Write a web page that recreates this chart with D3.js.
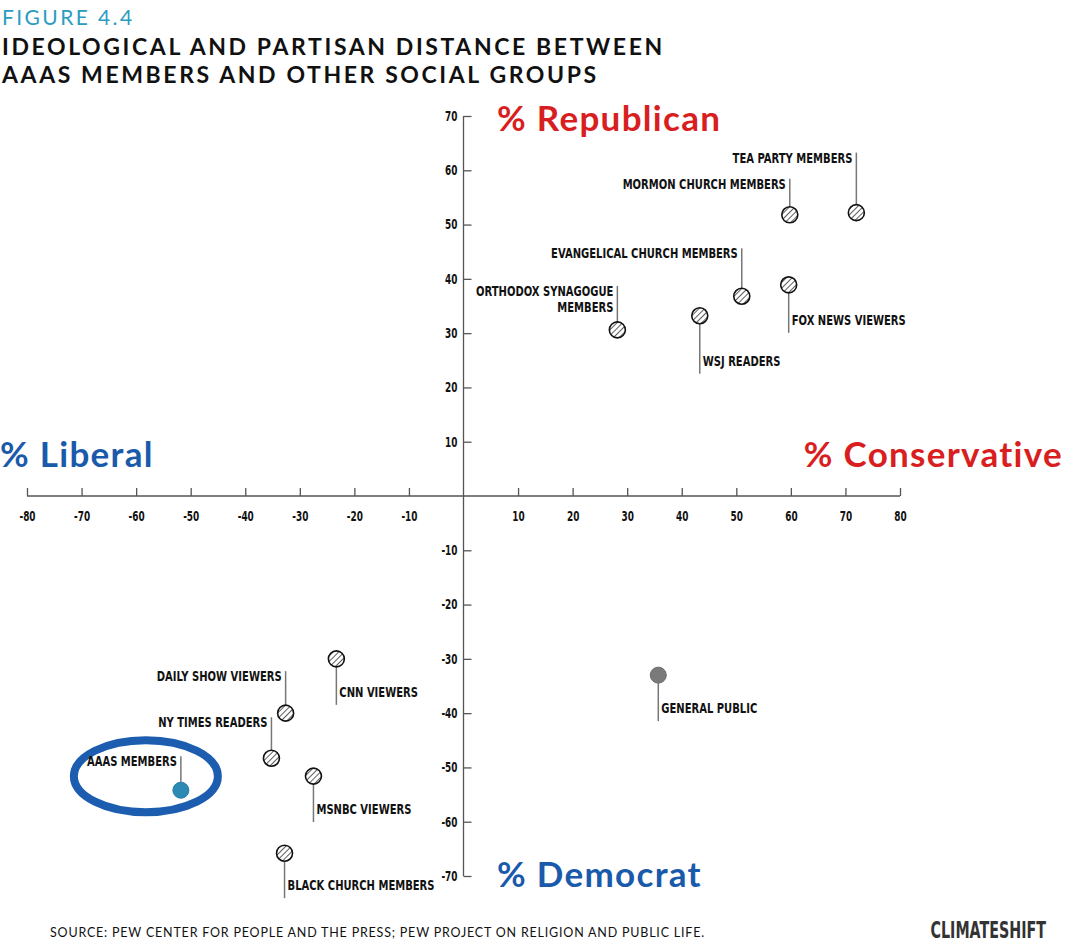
<!DOCTYPE html>
<html><head><meta charset="utf-8">
<script src="https://cdn.jsdelivr.net/npm/d3@7"></script>
<style>
body{margin:0;background:#fff;}
.cond{font-family:"DejaVu Sans",sans-serif;font-weight:bold;}
</style></head><body>
<svg id="chart" width="1068" height="947"></svg>
<script>
// data (ideology %, partisanship %)
var groups = ["TEA PARTY MEMBERS","MORMON CHURCH MEMBERS","EVANGELICAL CHURCH MEMBERS","FOX NEWS VIEWERS",
  "WSJ READERS","ORTHODOX SYNAGOGUE|MEMBERS","GENERAL PUBLIC","CNN VIEWERS","DAILY SHOW VIEWERS",
  "NY TIMES READERS","MSNBC VIEWERS","BLACK CHURCH MEMBERS","AAAS MEMBERS"];
var ideology = [72, 59.8, 51, 59.6, 43.3, 28.2, 35.7, -23.3, -32.6, -35.2, -27.5, -32.8, -51.8];
var partisan = [52.2, 51.8, 36.8, 38.9, 33.2, 30.6, -33, -30, -40, -48.3, -51.6, -65.8, -54.2];
var kind = ["hatch","hatch","hatch","hatch","hatch","hatch","public","hatch","hatch","hatch","hatch","hatch","aaas"];
// label placement: side and leader length (px)
var labelSide = ["up","up","up","down","down","up","down","down","up","up","down","down","up"];
var labelLen = [52, 28, 40, 40, 50, 36, 38, 38, 34, 33, 38, 37, 26];

var xTicks = [-80,-70,-60,-50,-40,-30,-20,-10,10,20,30,40,50,60,70,80];
var yTicks = [70,60,50,40,30,20,10,-10,-20,-30,-40,-50,-60,-70];

var svg = d3.select("#chart");
var x = d3.scaleLinear().domain([-80,80]).range([27,900]);
var y = d3.scaleLinear().domain([70,-70]).range([116,876]);
var fmt = function(d){ return String(d); };

// squeeze text horizontally to mimic a condensed face
function squeeze(sel, k){
  sel.each(function(){
    var w = this.getComputedTextLength();
    d3.select(this).attr("textLength", w*k).attr("lengthAdjust","spacingAndGlyphs");
  });
}

var defs = svg.append("defs");
var pat = defs.append("pattern").attr("id","hatch").attr("patternUnits","userSpaceOnUse")
  .attr("width",4).attr("height",4).attr("patternTransform","rotate(45)");
pat.append("rect").attr("width",4).attr("height",4).attr("fill","#fff");
pat.append("line").attr("x1",0).attr("y1",0).attr("x2",0).attr("y2",4).attr("stroke","#333").attr("stroke-width",1.6);

// titles
svg.append("text").attr("x",2).attr("y",25).attr("fill","#2b9cbf")
  .style("font-family","Lato").style("font-size","21px").style("letter-spacing","2.4px").text("FIGURE 4.4");
["IDEOLOGICAL AND PARTISAN DISTANCE BETWEEN","AAAS MEMBERS AND OTHER SOCIAL GROUPS"].forEach(function(t,i){
  svg.append("text").attr("x",2).attr("y",55+i*28).attr("fill","#111")
    .style("font-family","Lato").style("font-weight","bold").style("font-size","23px").style("letter-spacing","2.6px").text(t);
});

// axes
var gx = svg.append("g").attr("transform","translate(0,"+y(0)+")")
  .call(d3.axisTop(x).tickValues(xTicks).tickSize(8).tickFormat(fmt));
gx.selectAll("text").attr("y",20).attr("dy","0.35em");
var gy = svg.append("g").attr("transform","translate("+x(0)+",0)")
  .call(d3.axisRight(y).tickValues(yTicks).tickSize(8).tickFormat(fmt));
gy.selectAll("text").attr("x",-6).attr("text-anchor","end");
svg.selectAll(".domain").attr("stroke","#555").attr("stroke-width",1.3);
svg.selectAll(".tick line").attr("stroke","#555").attr("stroke-width",1.3);
svg.selectAll(".tick text").attr("class","cond").style("font-size","13.5px").attr("fill","#111");
squeeze(svg.selectAll(".tick text"), 0.66);
gx.select(".domain").attr("d","M"+x(-80)+",0H"+x(80));
gy.select(".domain").attr("d","M0,"+y(70)+"V"+y(-70));

// quadrant labels
var q = [["% Republican",497,131,"start","#d81e1e"],["% Democrat",497,887,"start","#1a5aab"],
         ["% Liberal",0,467,"start","#1a5aab"],["% Conservative",1063,467,"end","#d81e1e"]];
q.forEach(function(d){
  svg.append("text").attr("x",d[1]).attr("y",d[2]).attr("text-anchor",d[3]).attr("fill",d[4])
    .style("font-family","Lato").style("font-weight","bold").style("font-size","35px").style("letter-spacing","1.3px").text(d[0]);
});

// highlight ellipse around AAAS
svg.append("ellipse").attr("cx",x(-51.8)-35).attr("cy",y(-54.2)-14).attr("rx",72).attr("ry",36)
  .attr("fill","none").attr("stroke","#1c5db0").attr("stroke-width",8);

// points with leaders
var pts = svg.append("g").selectAll("g").data(groups).join("g");
pts.each(function(name,i){
  var g = d3.select(this), cx = x(ideology[i]), cy = y(partisan[i]);
  var up = labelSide[i]==="up", L = labelLen[i];
  var y2 = up ? cy-8-L : cy+8+L;
  g.append("line").attr("x1",cx).attr("x2",cx).attr("y1",up?cy-8:cy+8).attr("y2",y2)
    .attr("stroke","#777").attr("stroke-width",1.5);
  name.split("|").forEach(function(s,k){
    var t = g.append("text").attr("class","cond").style("font-size","13.5px").attr("fill","#111")
      .attr("text-anchor", up ? "end" : "start")
      .attr("x", up ? cx-4 : cx+3)
      .attr("y", up ? y2+10+k*16 : y2-8+k*16).text(s);
    squeeze(t, 0.74);
  });
  var c = g.append("circle").attr("cx",cx).attr("cy",cy).attr("r",8);
  if (kind[i]==="hatch") c.attr("fill","url(#hatch)").attr("stroke","#111").attr("stroke-width",1.6);
  else if (kind[i]==="public") c.attr("fill","#7a7a7a").attr("stroke","#6a6a6a").attr("stroke-width",1);
  else c.attr("fill","#2d8ab5").attr("stroke","#2a7ea6").attr("stroke-width",1);
});

// footer
svg.append("text").attr("x",50).attr("y",937).attr("fill","#111")
  .style("font-family","Lato").style("font-size","12.5px").style("letter-spacing","0.8px")
  .text("SOURCE: PEW CENTER FOR PEOPLE AND THE PRESS; PEW PROJECT ON RELIGION AND PUBLIC LIFE.");
var logo = svg.append("text").attr("x",1046).attr("y",938).attr("text-anchor","end").attr("class","cond")
  .attr("fill","#333").style("font-size","23px").text("CLIMATESHIFT");
squeeze(logo, 0.62);
</script></body></html>
